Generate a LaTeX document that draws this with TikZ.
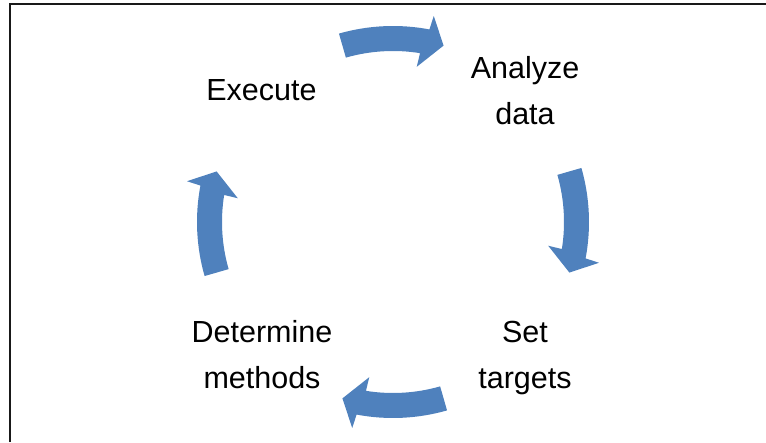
\documentclass[tikz,border=0pt]{standalone}
\usepackage{fontspec}
\setmainfont{Liberation Sans}
\definecolor{arrowblue}{HTML}{4F81BD}
\tikzset{
  lbl/.style={font=\fontsize{30.5}{46}\selectfont, align=center, inner sep=0pt, text=black},
  cyclearrow/.pic={
    \fill[arrowblue] (106:196pt) arc[start angle=106, end angle=79.3, radius=196pt]
      -- (78.8:210pt) -- (74:183.5pt) -- (81.3:157pt) -- (80.9:171pt)
      arc[start angle=80.9, end angle=106, radius=171pt] -- cycle;
  }
}
\begin{document}
\begin{tikzpicture}[x=1pt,y=1pt]
\useasboundingbox (0,0) rectangle (766,442);
\coordinate (c) at (393,220);
\coordinate (f1) at (9.5,0);
\coordinate (f2) at (9.5,437.5);
\coordinate (f3) at (766,437.5);
\draw[line width=2pt, black!90] (f1) -- (f2) -- (f3);
\pic at (c) {cyclearrow};
\pic[rotate=-90] at (c) {cyclearrow};
\pic[rotate=-180] at (c) {cyclearrow};
\pic[rotate=-270] at (c) {cyclearrow};
\node[lbl, anchor=base] (exe) at (261.5,341.3) {Execute};
\node[lbl, anchor=base] (ana) at (525,317) {Analyze\\data};
\node[lbl, anchor=base] (set) at (525,53) {Set\\targets};
\node[lbl, anchor=base] (det) at (262,53) {Determine\\methods};
\end{tikzpicture}
\end{document}
